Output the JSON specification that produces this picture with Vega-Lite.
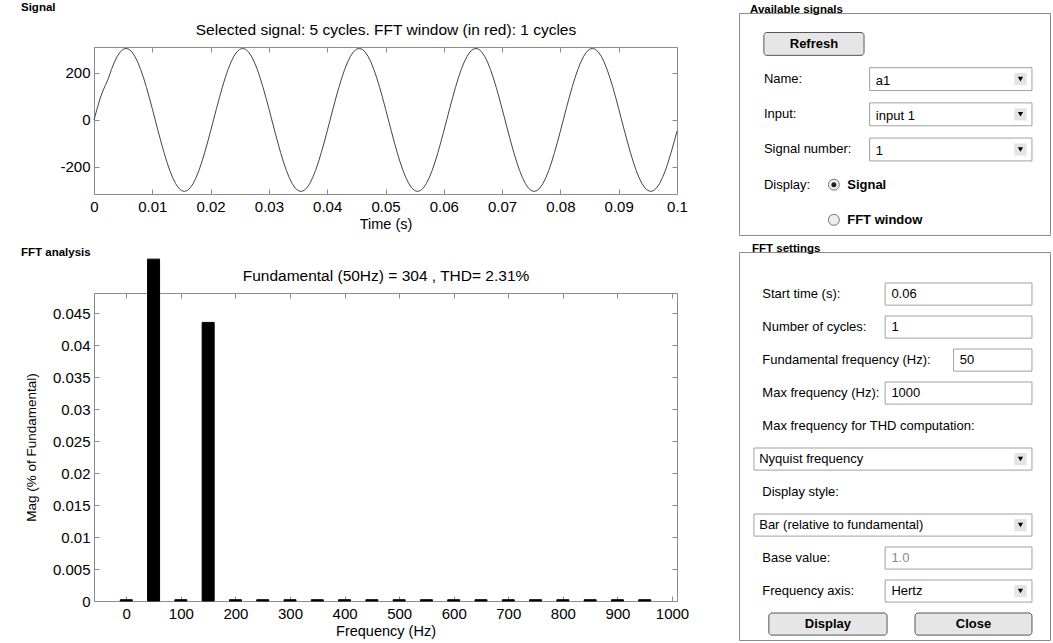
{
"$schema": "https://vega.github.io/schema/vega-lite/v6.json",
"background": "white",
"padding": {"left": 20, "top": 2, "right": 0, "bottom": 0},
"config": {
  "font": "Liberation Sans",
  "view": {"stroke": "#8c8c8c", "strokeWidth": 1},
  "axis": {"domain": false, "grid": false, "ticks": true, "tickColor": "#8c8c8c", "tickSize": -5, "labelPadding": 9, "labelFontSize": 15, "labelColor": "#000", "labelFont": "Liberation Sans", "titleFont": "Liberation Sans", "titleFontWeight": "normal", "titleColor": "#000", "titleFontSize": 14.5, "labelFlush": false, "labelOverlap": false},
  "axisX": {"labelPadding": 10},
  "title": {"font": "Liberation Sans", "color": "#000"}
},
"datasets": {
  "signal": [
    {"t":0,"v":0},{"t":0.0005,"v":45},{"t":0.001,"v":88},{"t":0.0015,"v":122},{"t":0.002,"v":150},{"t":0.0025,"v":178.7},{"t":0.003,"v":215},{"t":0.0035,"v":245.9},{"t":0.004,"v":270.9},{"t":0.0045,"v":289.1},{"t":0.005,"v":300.3},{"t":0.0055,"v":304},{"t":0.006,"v":300.3},{"t":0.0065,"v":289.1},{"t":0.007,"v":270.9},{"t":0.0075,"v":245.9},{"t":0.008,"v":215},{"t":0.0085,"v":178.7},{"t":0.009,"v":138},{"t":0.0095,"v":93.9},{"t":0.01,"v":47.6},{"t":0.0105,"v":0},{"t":0.011,"v":-47.6},{"t":0.0115,"v":-93.9},{"t":0.012,"v":-138},{"t":0.0125,"v":-178.7},{"t":0.013,"v":-215},{"t":0.0135,"v":-245.9},{"t":0.014,"v":-270.9},{"t":0.0145,"v":-289.1},{"t":0.015,"v":-300.3},{"t":0.0155,"v":-304},{"t":0.016,"v":-300.3},{"t":0.0165,"v":-289.1},{"t":0.017,"v":-270.9},{"t":0.0175,"v":-245.9},{"t":0.018,"v":-215},{"t":0.0185,"v":-178.7},{"t":0.019,"v":-138},{"t":0.0195,"v":-93.9},{"t":0.02,"v":-47.6},
    {"t":0.0205,"v":0},{"t":0.021,"v":47.6},{"t":0.0215,"v":93.9},{"t":0.022,"v":138},{"t":0.0225,"v":178.7},{"t":0.023,"v":215},{"t":0.0235,"v":245.9},{"t":0.024,"v":270.9},{"t":0.0245,"v":289.1},{"t":0.025,"v":300.3},{"t":0.0255,"v":304},{"t":0.026,"v":300.3},{"t":0.0265,"v":289.1},{"t":0.027,"v":270.9},{"t":0.0275,"v":245.9},{"t":0.028,"v":215},{"t":0.0285,"v":178.7},{"t":0.029,"v":138},{"t":0.0295,"v":93.9},{"t":0.03,"v":47.6},{"t":0.0305,"v":0},{"t":0.031,"v":-47.6},{"t":0.0315,"v":-93.9},{"t":0.032,"v":-138},{"t":0.0325,"v":-178.7},{"t":0.033,"v":-215},{"t":0.0335,"v":-245.9},{"t":0.034,"v":-270.9},{"t":0.0345,"v":-289.1},{"t":0.035,"v":-300.3},{"t":0.0355,"v":-304},{"t":0.036,"v":-300.3},{"t":0.0365,"v":-289.1},{"t":0.037,"v":-270.9},{"t":0.0375,"v":-245.9},{"t":0.038,"v":-215},{"t":0.0385,"v":-178.7},{"t":0.039,"v":-138},{"t":0.0395,"v":-93.9},{"t":0.04,"v":-47.6},
    {"t":0.0405,"v":0},{"t":0.041,"v":47.6},{"t":0.0415,"v":93.9},{"t":0.042,"v":138},{"t":0.0425,"v":178.7},{"t":0.043,"v":215},{"t":0.0435,"v":245.9},{"t":0.044,"v":270.9},{"t":0.0445,"v":289.1},{"t":0.045,"v":300.3},{"t":0.0455,"v":304},{"t":0.046,"v":300.3},{"t":0.0465,"v":289.1},{"t":0.047,"v":270.9},{"t":0.0475,"v":245.9},{"t":0.048,"v":215},{"t":0.0485,"v":178.7},{"t":0.049,"v":138},{"t":0.0495,"v":93.9},{"t":0.05,"v":47.6},{"t":0.0505,"v":0},{"t":0.051,"v":-47.6},{"t":0.0515,"v":-93.9},{"t":0.052,"v":-138},{"t":0.0525,"v":-178.7},{"t":0.053,"v":-215},{"t":0.0535,"v":-245.9},{"t":0.054,"v":-270.9},{"t":0.0545,"v":-289.1},{"t":0.055,"v":-300.3},{"t":0.0555,"v":-304},{"t":0.056,"v":-300.3},{"t":0.0565,"v":-289.1},{"t":0.057,"v":-270.9},{"t":0.0575,"v":-245.9},{"t":0.058,"v":-215},{"t":0.0585,"v":-178.7},{"t":0.059,"v":-138},{"t":0.0595,"v":-93.9},{"t":0.06,"v":-47.6},
    {"t":0.0605,"v":0},{"t":0.061,"v":47.6},{"t":0.0615,"v":93.9},{"t":0.062,"v":138},{"t":0.0625,"v":178.7},{"t":0.063,"v":215},{"t":0.0635,"v":245.9},{"t":0.064,"v":270.9},{"t":0.0645,"v":289.1},{"t":0.065,"v":300.3},{"t":0.0655,"v":304},{"t":0.066,"v":300.3},{"t":0.0665,"v":289.1},{"t":0.067,"v":270.9},{"t":0.0675,"v":245.9},{"t":0.068,"v":215},{"t":0.0685,"v":178.7},{"t":0.069,"v":138},{"t":0.0695,"v":93.9},{"t":0.07,"v":47.6},{"t":0.0705,"v":0},{"t":0.071,"v":-47.6},{"t":0.0715,"v":-93.9},{"t":0.072,"v":-138},{"t":0.0725,"v":-178.7},{"t":0.073,"v":-215},{"t":0.0735,"v":-245.9},{"t":0.074,"v":-270.9},{"t":0.0745,"v":-289.1},{"t":0.075,"v":-300.3},{"t":0.0755,"v":-304},{"t":0.076,"v":-300.3},{"t":0.0765,"v":-289.1},{"t":0.077,"v":-270.9},{"t":0.0775,"v":-245.9},{"t":0.078,"v":-215},{"t":0.0785,"v":-178.7},{"t":0.079,"v":-138},{"t":0.0795,"v":-93.9},{"t":0.08,"v":-47.6},
    {"t":0.0805,"v":0},{"t":0.081,"v":47.6},{"t":0.0815,"v":93.9},{"t":0.082,"v":138},{"t":0.0825,"v":178.7},{"t":0.083,"v":215},{"t":0.0835,"v":245.9},{"t":0.084,"v":270.9},{"t":0.0845,"v":289.1},{"t":0.085,"v":300.3},{"t":0.0855,"v":304},{"t":0.086,"v":300.3},{"t":0.0865,"v":289.1},{"t":0.087,"v":270.9},{"t":0.0875,"v":245.9},{"t":0.088,"v":215},{"t":0.0885,"v":178.7},{"t":0.089,"v":138},{"t":0.0895,"v":93.9},{"t":0.09,"v":47.6},{"t":0.0905,"v":0},{"t":0.091,"v":-47.6},{"t":0.0915,"v":-93.9},{"t":0.092,"v":-138},{"t":0.0925,"v":-178.7},{"t":0.093,"v":-215},{"t":0.0935,"v":-245.9},{"t":0.094,"v":-270.9},{"t":0.0945,"v":-289.1},{"t":0.095,"v":-300.3},{"t":0.0955,"v":-304},{"t":0.096,"v":-300.3},{"t":0.0965,"v":-289.1},{"t":0.097,"v":-270.9},{"t":0.0975,"v":-245.9},{"t":0.098,"v":-215},{"t":0.0985,"v":-178.7},{"t":0.099,"v":-138},{"t":0.0995,"v":-93.9},{"t":0.1,"v":-47.6}
  ],
  "fft": [
    {"freq":0,"mag":0.0002},{"freq":50,"mag":0.0535},{"freq":100,"mag":0.0002},{"freq":150,"mag":0.0436},{"freq":200,"mag":0.0002},{"freq":250,"mag":0.0002},{"freq":300,"mag":0.0002},{"freq":350,"mag":0.0002},{"freq":400,"mag":0.0002},{"freq":450,"mag":0.0002},{"freq":500,"mag":0.0002},{"freq":550,"mag":0.0002},{"freq":600,"mag":0.0002},{"freq":650,"mag":0.0002},{"freq":700,"mag":0.0002},{"freq":750,"mag":0.0002},{"freq":800,"mag":0.0002},{"freq":850,"mag":0.0002},{"freq":900,"mag":0.0002},{"freq":950,"mag":0.0002}
  ],
  "avail": [
    {"row":1,"label":"","value":"Refresh","kind":"button","selected":false},
    {"row":2,"label":"Name:","value":"a1","kind":"dropdown","selected":false},
    {"row":3,"label":"Input:","value":"input 1","kind":"dropdown","selected":false},
    {"row":4,"label":"Signal number:","value":"1","kind":"dropdown","selected":false},
    {"row":5,"label":"Display:","value":"Signal","kind":"radio","selected":true},
    {"row":6,"label":"","value":"FFT window","kind":"radio","selected":false}
  ],
  "settings": [
    {"row":1,"label":"Start time (s):","value":"0.06","kind":"edit","enabled":true},
    {"row":2,"label":"Number of cycles:","value":"1","kind":"edit","enabled":true},
    {"row":3,"label":"Fundamental frequency (Hz):","value":"50","kind":"edit","enabled":true},
    {"row":4,"label":"Max frequency (Hz):","value":"1000","kind":"edit","enabled":true},
    {"row":5,"label":"Max frequency for THD computation:","value":"","kind":"heading","enabled":true},
    {"row":6,"label":"","value":"Nyquist frequency","kind":"list","enabled":true},
    {"row":7,"label":"Display style:","value":"","kind":"heading","enabled":true},
    {"row":8,"label":"","value":"Bar (relative to fundamental)","kind":"list","enabled":true},
    {"row":9,"label":"Base value:","value":"1.0","kind":"edit","enabled":false},
    {"row":10,"label":"Frequency axis:","value":"Hertz","kind":"dropdown","enabled":true},
    {"row":11,"label":"","value":"Display","kind":"button","enabled":true},
    {"row":11,"label":"","value":"Close","kind":"button","enabled":true}
  ]
},
"spacing": 48,
"hconcat": [
  {
    "spacing": 5,
    "vconcat": [
      {
        "width": 583, "height": 1,
        "view": {"stroke": null},
        "title": {"text": "Signal", "anchor": "start", "frame": "group", "dx": -73, "fontSize": 11.5, "fontWeight": "bold", "offset": -3},
        "data": {"values": [{"panel": "Signal"}]},
        "mark": {"type": "point", "opacity": 0},
        "encoding": {}
      },
      {
        "spacing": 15,
        "vconcat": [
          {
            "width": 583, "height": 147,
            "data": {"name": "signal"},
            "layer": [
              {
                "mark": {"type": "line", "color": "#444", "strokeWidth": 1},
                "encoding": {
                  "x": {"field": "t", "type": "quantitative", "scale": {"domain": [0, 0.1], "nice": false, "zero": false},
                        "axis": {"values": [0,0.01,0.02,0.03,0.04,0.05,0.06,0.07,0.08,0.09,0.1], "labelExpr": "'' + datum.value", "title": "Time (s)", "titlePadding": 3}},
                  "y": {"field": "v", "type": "quantitative", "scale": {"domain": [-315, 310], "nice": false, "zero": false},
                        "axis": {"values": [-200, 0, 200], "labelExpr": "'' + datum.value", "title": null}}
                }
              },
              {
                "mark": {"type": "point", "opacity": 0},
                "encoding": {
                  "x": {"field": "t", "type": "quantitative",
                        "axis": {"orient": "top", "values": [0,0.01,0.02,0.03,0.04,0.05,0.06,0.07,0.08,0.09,0.1], "labels": false, "title": "Selected signal: 5 cycles. FFT window (in red): 1 cycles", "titleFontSize": 15.5, "titlePadding": 9}},
                  "y": {"field": "v", "type": "quantitative",
                        "axis": {"orient": "right", "values": [-200, 0, 200], "labels": false, "title": null}}
                }
              }
            ],
            "resolve": {"axis": {"x": "independent", "y": "independent"}}
          },
          {
            "width": 583, "height": 308,
            "title": {"text": "FFT analysis", "anchor": "start", "frame": "group", "dx": -73, "fontSize": 11.5, "fontWeight": "bold", "offset": -2},
            "data": {"name": "fft"},
            "layer": [
              {
                "mark": {"type": "bar", "orient": "vertical", "color": "#000", "stroke": "#000", "strokeWidth": 1, "width": 12},
                "encoding": {
                  "x": {"field": "freq", "type": "quantitative", "scale": {"domain": [-50, 1000], "nice": false, "zero": false},
                        "axis": {"values": [0,100,200,300,400,500,600,700,800,900,1000], "labelExpr": "'' + datum.value", "title": "Frequency (Hz)", "titlePadding": 3}},
                  "y": {"field": "mag", "type": "quantitative", "scale": {"domain": [0, 0.0482], "nice": false},
                        "axis": {"values": [0,0.005,0.01,0.015,0.02,0.025,0.03,0.035,0.04,0.045], "labelExpr": "'' + datum.value", "title": "Mag (% of Fundamental)", "titleFontSize": 13.5, "titlePadding": 14}}
                }
              },
              {
                "mark": {"type": "point", "opacity": 0},
                "encoding": {
                  "x": {"field": "freq", "type": "quantitative",
                        "axis": {"orient": "top", "values": [0,100,200,300,400,500,600,700,800,900,1000], "labels": false, "title": "Fundamental (50Hz) = 304 , THD= 2.31%", "titleFontSize": 15.5, "titlePadding": 9}},
                  "y": {"field": "mag", "type": "quantitative",
                        "axis": {"orient": "right", "values": [0,0.005,0.01,0.015,0.02,0.025,0.03,0.035,0.04,0.045], "labels": false, "title": null}}
                }
              }
            ],
            "resolve": {"axis": {"x": "independent", "y": "independent"}}
          }
        ]
      }
    ]
  },
  {
    "spacing": 6,
    "vconcat": [
      {
        "width": 311, "height": 222,
        "title": {"text": "Available signals", "anchor": "start", "frame": "group", "dx": 11, "fontSize": 11.5, "fontWeight": "bold", "offset": -2},
        "data": {"name": "avail"},
        "encoding": {"y": {"field": "row", "type": "ordinal", "axis": null, "scale": {"paddingInner": 0.35, "paddingOuter": 0.33, "align": 0.84}}},
        "layer": [
          {
            "transform": [{"filter": "datum.kind === 'button'"}],
            "mark": {"type": "rect", "fill": "#e6e6e6", "stroke": "#555", "strokeWidth": 1, "cornerRadius": 3},
            "encoding": {"x": {"datum": 0.08, "type": "quantitative", "scale": {"domain": [0, 1], "nice": false}, "axis": null}, "x2": {"datum": 0.402}}
          },
          {
            "transform": [{"filter": "datum.kind === 'button'"}],
            "mark": {"type": "text", "fontSize": 13, "fontWeight": "bold", "align": "center", "color": "#000"},
            "encoding": {"x": {"datum": 0.241, "type": "quantitative", "scale": {"domain": [0, 1], "nice": false}, "axis": null}, "text": {"field": "value"}}
          },
          {
            "transform": [{"filter": "datum.label !== ''"}],
            "mark": {"type": "text", "fontSize": 13, "align": "left", "color": "#000"},
            "encoding": {"x": {"datum": 0.08, "type": "quantitative", "scale": {"domain": [0, 1], "nice": false}, "axis": null}, "text": {"field": "label"}}
          },
          {
            "transform": [{"filter": "datum.kind === 'dropdown'"}],
            "mark": {"type": "rect", "fill": "#fff", "stroke": "#a0a0a0", "strokeWidth": 1},
            "encoding": {"x": {"datum": 0.42, "type": "quantitative", "scale": {"domain": [0, 1], "nice": false}, "axis": null}, "x2": {"datum": 0.942}}
          },
          {
            "transform": [{"filter": "datum.kind === 'dropdown'"}],
            "mark": {"type": "text", "fontSize": 13, "align": "left", "color": "#000", "dy": 2},
            "encoding": {"x": {"datum": 0.44, "type": "quantitative", "scale": {"domain": [0, 1], "nice": false}, "axis": null}, "text": {"field": "value"}}
          },
          {
            "transform": [{"filter": "datum.kind === 'dropdown'"}],
            "mark": {"type": "point", "shape": "square", "filled": true, "color": "#e4e4e4", "size": 150, "opacity": 1},
            "encoding": {"x": {"datum": 0.905, "type": "quantitative", "scale": {"domain": [0, 1], "nice": false}, "axis": null}}
          },
          {
            "transform": [{"filter": "datum.kind === 'dropdown'"}],
            "mark": {"type": "point", "shape": "triangle-down", "filled": true, "color": "#000", "size": 28, "opacity": 1},
            "encoding": {"x": {"datum": 0.905, "type": "quantitative", "scale": {"domain": [0, 1], "nice": false}, "axis": null}}
          },
          {
            "transform": [{"filter": "datum.kind === 'radio'"}],
            "mark": {"type": "point", "shape": "circle", "filled": true, "fill": "#eeeeee", "stroke": "#777", "strokeWidth": 1, "size": 120, "opacity": 1},
            "encoding": {"x": {"datum": 0.305, "type": "quantitative", "scale": {"domain": [0, 1], "nice": false}, "axis": null}}
          },
          {
            "transform": [{"filter": "datum.selected"}],
            "mark": {"type": "point", "shape": "circle", "filled": true, "color": "#222", "size": 25, "opacity": 1},
            "encoding": {"x": {"datum": 0.305, "type": "quantitative", "scale": {"domain": [0, 1], "nice": false}, "axis": null}}
          },
          {
            "transform": [{"filter": "datum.kind === 'radio'"}],
            "mark": {"type": "text", "fontSize": 13, "fontWeight": "bold", "align": "left", "color": "#000"},
            "encoding": {"x": {"datum": 0.348, "type": "quantitative", "scale": {"domain": [0, 1], "nice": false}, "axis": null}, "text": {"field": "value"}}
          }
        ]
      },
      {
        "width": 311, "height": 388,
        "title": {"text": "FFT settings", "anchor": "start", "frame": "group", "dx": 13, "fontSize": 11.5, "fontWeight": "bold", "offset": -2},
        "data": {"name": "settings"},
        "encoding": {"y": {"field": "row", "type": "ordinal", "axis": null, "scale": {"paddingInner": 0.33, "paddingOuter": 0.544, "align": 0.864}}},
        "layer": [
          {
            "transform": [{"filter": "(datum.kind === 'edit' || datum.kind === 'dropdown') && datum.label !== 'Fundamental frequency (Hz):'"}],
            "mark": {"type": "rect", "fill": "#fff", "stroke": "#a0a0a0", "strokeWidth": 1},
            "encoding": {"x": {"datum": 0.47, "type": "quantitative", "scale": {"domain": [0, 1], "nice": false}, "axis": null}, "x2": {"datum": 0.942}}
          },
          {
            "transform": [{"filter": "(datum.kind === 'edit' || datum.kind === 'dropdown') && datum.label !== 'Fundamental frequency (Hz):'"}],
            "mark": {"type": "text", "fontSize": 13, "align": "left"},
            "encoding": {"x": {"datum": 0.49, "type": "quantitative", "scale": {"domain": [0, 1], "nice": false}, "axis": null}, "text": {"field": "value"},
                         "color": {"condition": {"test": "datum.enabled", "value": "#000"}, "value": "#8a8a8a"}}
          },
          {
            "transform": [{"filter": "datum.label === 'Fundamental frequency (Hz):'"}],
            "mark": {"type": "rect", "fill": "#fff", "stroke": "#a0a0a0", "strokeWidth": 1},
            "encoding": {"x": {"datum": 0.69, "type": "quantitative", "scale": {"domain": [0, 1], "nice": false}, "axis": null}, "x2": {"datum": 0.942}}
          },
          {
            "transform": [{"filter": "datum.label === 'Fundamental frequency (Hz):'"}],
            "mark": {"type": "text", "fontSize": 13, "align": "left", "color": "#000"},
            "encoding": {"x": {"datum": 0.71, "type": "quantitative", "scale": {"domain": [0, 1], "nice": false}, "axis": null}, "text": {"field": "value"}}
          },
          {
            "transform": [{"filter": "datum.kind === 'list'"}],
            "mark": {"type": "rect", "fill": "#fff", "stroke": "#a0a0a0", "strokeWidth": 1},
            "encoding": {"x": {"datum": 0.048, "type": "quantitative", "scale": {"domain": [0, 1], "nice": false}, "axis": null}, "x2": {"datum": 0.942}}
          },
          {
            "transform": [{"filter": "datum.kind === 'list'"}],
            "mark": {"type": "text", "fontSize": 13, "align": "left", "color": "#000"},
            "encoding": {"x": {"datum": 0.065, "type": "quantitative", "scale": {"domain": [0, 1], "nice": false}, "axis": null}, "text": {"field": "value"}}
          },
          {
            "transform": [{"filter": "datum.kind === 'list' || datum.kind === 'dropdown'"}],
            "mark": {"type": "point", "shape": "square", "filled": true, "color": "#e4e4e4", "size": 150, "opacity": 1},
            "encoding": {"x": {"datum": 0.905, "type": "quantitative", "scale": {"domain": [0, 1], "nice": false}, "axis": null}}
          },
          {
            "transform": [{"filter": "datum.kind === 'list' || datum.kind === 'dropdown'"}],
            "mark": {"type": "point", "shape": "triangle-down", "filled": true, "color": "#000", "size": 28, "opacity": 1},
            "encoding": {"x": {"datum": 0.905, "type": "quantitative", "scale": {"domain": [0, 1], "nice": false}, "axis": null}}
          },
          {
            "transform": [{"filter": "datum.label !== ''"}],
            "mark": {"type": "text", "fontSize": 13, "align": "left", "color": "#000"},
            "encoding": {"x": {"datum": 0.075, "type": "quantitative", "scale": {"domain": [0, 1], "nice": false}, "axis": null}, "text": {"field": "label"}}
          },
          {
            "transform": [{"filter": "datum.value === 'Display'"}],
            "mark": {"type": "rect", "fill": "#e6e6e6", "stroke": "#555", "strokeWidth": 1, "cornerRadius": 3},
            "encoding": {"x": {"datum": 0.096, "type": "quantitative", "scale": {"domain": [0, 1], "nice": false}, "axis": null}, "x2": {"datum": 0.476}}
          },
          {
            "transform": [{"filter": "datum.value === 'Display'"}],
            "mark": {"type": "text", "fontSize": 13, "fontWeight": "bold", "align": "center", "color": "#000"},
            "encoding": {"x": {"datum": 0.286, "type": "quantitative", "scale": {"domain": [0, 1], "nice": false}, "axis": null}, "text": {"field": "value"}}
          },
          {
            "transform": [{"filter": "datum.value === 'Close'"}],
            "mark": {"type": "rect", "fill": "#e6e6e6", "stroke": "#555", "strokeWidth": 1, "cornerRadius": 3},
            "encoding": {"x": {"datum": 0.566, "type": "quantitative", "scale": {"domain": [0, 1], "nice": false}, "axis": null}, "x2": {"datum": 0.942}}
          },
          {
            "transform": [{"filter": "datum.value === 'Close'"}],
            "mark": {"type": "text", "fontSize": 13, "fontWeight": "bold", "align": "center", "color": "#000"},
            "encoding": {"x": {"datum": 0.754, "type": "quantitative", "scale": {"domain": [0, 1], "nice": false}, "axis": null}, "text": {"field": "value"}}
          }
        ]
      }
    ]
  }
]
}
